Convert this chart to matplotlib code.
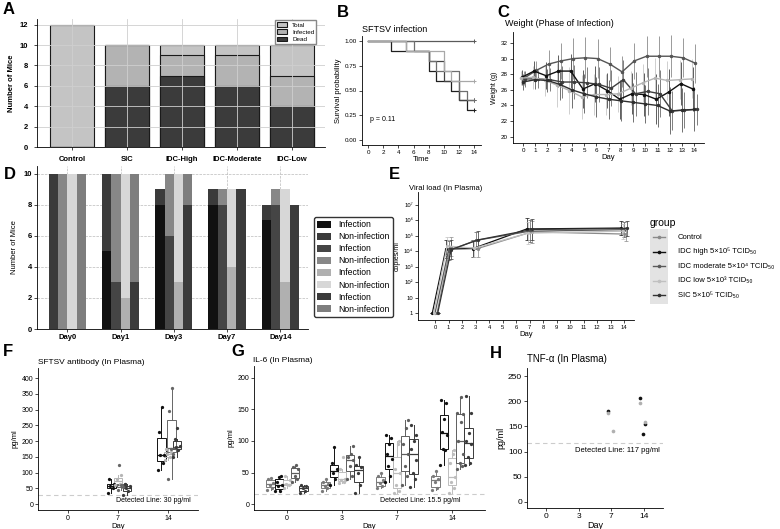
import numpy as np
import matplotlib
matplotlib.use("Agg")
import matplotlib.pyplot as plt
from matplotlib.patches import Patch, Rectangle
from matplotlib.lines import Line2D

plt.rcParams['font.family'] = ['Liberation Sans', 'DejaVu Sans']
plt.rcParams['axes.linewidth'] = 0.6
plt.rcParams['xtick.major.width'] = 0.5
plt.rcParams['ytick.major.width'] = 0.5
plt.rcParams['xtick.major.size'] = 2
plt.rcParams['ytick.major.size'] = 2
plt.rcParams['xtick.major.pad'] = 1.5
plt.rcParams['ytick.major.pad'] = 1.5

# ---------------- data ----------------
# A: mice counts
a_groups = ['Control', 'SIC', 'IDC-High', 'IDC-Moderate', 'IDC-Low']
a_total = [12, 10, 10, 10, 10]
a_infected = [0, 10, 9, 9, 7]
a_dead = [0, 6, 7, 6, 4]

# B: survival
b_groups = ['Control', 'IDC-High', 'SIC', 'IDC-Moderate', 'IDC-Low']
b_times = [[0], [0, 3, 8, 9, 11, 12, 13], [0, 5, 8, 10, 12], [0, 6, 8, 9, 12, 13], [0, 5, 10, 11]]
b_surv = [[1.0], [1, .9, .7, .6, .5, .4, .3], [1, .9, .8, .6, .4], [1, .9, .8, .7, .5, .4], [1, .9, .7, .6]]
b_end = 14
b_pvalue = 'p = 0.11'

# C: weight
c_days = list(range(15))
c_w_control = [27.5, 28.5, 29.3, 29.7, 30.0, 30.1, 30.0, 29.3, 28.3, 29.7, 30.3, 30.3, 30.3, 30.1, 29.4]
c_w_high = [27.6, 28.4, 27.8, 28.4, 28.4, 26.1, 26.8, 25.9, 24.8, 25.5, 25.4, 24.8, 25.7, 26.8, 26.1]
c_w_mod = [27.4, 27.4, 27.3, 27.0, 27.0, 26.9, 26.7, 26.2, 27.3, 25.5, 25.8, 25.5, 23.3, 23.4, 23.5]
c_w_low = [27.5, 27.6, 27.2, 26.6, 25.9, 25.1, 25.4, 25.4, 25.5, 26.2, 26.9, 27.5, 27.2, 27.3, 27.4]
c_w_sic = [27.0, 27.3, 27.2, 26.7, 26.0, 25.5, 25.1, 24.8, 24.6, 24.4, 24.2, 24.0, 23.3, 23.4, 23.5]
c_sd_control = [0.9, 1.2, 1.8, 2.3, 2.6, 2.6, 2.5, 2.2, 2.0, 2.3, 2.6, 2.6, 2.7, 2.5, 2.5]
c_sd_high = [1.0, 1.3, 1.7, 2.0, 2.2, 2.4, 2.3, 2.2, 2.5, 2.6, 2.8, 3.2, 3.0, 2.7, 2.8]
c_sd_mod = [1.0, 1.2, 1.5, 2.0, 2.2, 2.0, 2.2, 2.3, 2.5, 2.8, 3.0, 3.0, 2.5, 2.3, 2.0]
c_sd_low = [0.9, 1.5, 2.0, 2.8, 3.0, 2.8, 2.6, 2.6, 2.3, 2.2, 2.4, 2.6, 2.5, 2.5, 2.5]
c_sd_sic = [1.0, 1.2, 1.5, 2.0, 2.3, 2.5, 2.6, 2.5, 2.6, 2.5, 2.4, 2.8, 3.0, 2.8, 2.8]

# D: infection status
d_days = ['Day0', 'Day1', 'Day3', 'Day7', 'Day14']
d_inf_1 = [0, 5, 8, 8, 7]
d_non_1 = [10, 5, 1, 1, 1]
d_inf_2 = [0, 3, 6, 8, 8]
d_non_2 = [10, 7, 4, 1, 1]
d_inf_3 = [0, 2, 3, 4, 3]
d_non_3 = [10, 8, 7, 5, 6]
d_inf_4 = [0, 3, 8, 9, 8]
d_non_4 = [10, 7, 2, 0, 0]

# E: viral load
e_days = [0, 1, 3, 7, 14]
e_groups = ['Control', 'IDC high 5×10⁵ TCID₅₀', 'IDC moderate 5×10⁴ TCID₅₀',
            'IDC low 5×10³ TCID₅₀', 'SIC 5×10⁵ TCID₅₀']
e_control = [1, 2.0e4, 1.5e4, 1.8e5, 1.3e5]
e_high = [1, 1.4e4, 1.5e4, 2.8e5, 3.2e5]
e_mod = [1, 1.1e4, 5.0e4, 2.0e5, 2.5e5]
e_low = [1, 2.2e4, 1.6e4, 1.5e5, 2.0e5]
e_sic = [1, 1.3e4, 5.5e4, 2.6e5, 3.0e5]
e_errfactor = [1, 4, 3.5, 5, 3]

# F: antibody
f_days = ['0', '7', '14']
f_day7 = [[35, 50, 57, 62, 80], [60, 65, 80, 93], [45, 55, 60, 65, 125], [30, 42, 52, 58, 65]]
f_day14 = [[108, 130, 155, 155, 230, 307], [140, 150, 160, 165, 175],
           [80, 160, 175, 178, 297, 370], [150, 172, 180, 185, 205, 240]]
f_limit = 30

# G: IL-6
g_days = ['0', '3', '7', '14']
g_day0 = [[22, 25, 30, 33, 40, 42], [20, 20, 28, 30, 35, 43, 44], [25, 30, 32, 38, 45],
          [35, 40, 45, 55, 58, 62], [18, 20, 25, 28, 30]]
g_day3 = [[20, 25, 28, 32, 35, 40], [30, 40, 50, 55, 65, 90], [33, 35, 38, 40, 55, 75],
          [40, 45, 60, 70, 75, 80, 92], [18, 30, 50, 58, 62, 75]]
g_day7 = [[25, 28, 33, 38, 45, 50], [35, 45, 60, 72, 80, 95, 105, 110], [18, 20, 30, 50, 55, 95, 100],
          [30, 45, 60, 80, 95, 120, 134], [27, 40, 50, 70, 88, 100, 110, 125]]
g_day14 = [[22, 25, 35, 40, 45, 52], [62, 85, 88, 110, 115, 135, 160, 165], [18, 25, 35, 43, 65, 80, 85],
           [55, 60, 65, 80, 100, 130, 143, 145, 170], [62, 65, 75, 95, 100, 112, 145, 172]]
g_limit = 15.5

# H: TNF-a
h_days = ['0', '3', '7', '14']
h_day7_dark = [180]
h_day7_light = [177, 140]
h_day14_dark = [206, 155, 135]
h_day14_light = [197, 158]
h_limit = 117

# ---------------- layout helpers ----------------
W, H = 780, 529
fig = plt.figure(figsize=(7.8, 5.29), dpi=100)


def box(x0, y0, x1, y1):
    return [x0 / W, 1 - y1 / H, (x1 - x0) / W, (y1 - y0) / H]


def ftext(x, y, s, **kw):
    fig.text(x / W, 1 - y / H, s, **kw)


def classic(ax):
    ax.spines['top'].set_visible(False)
    ax.spines['right'].set_visible(False)


JIT = np.array([-0.9, 0.45, -0.2, 0.8, -0.55, 0.15, 0.65, -0.75, 0.3, -0.4])

# panel letters
for lab, x, y in [('A', 3, 2), ('B', 337, 5), ('C', 497, 5), ('D', 4, 167), ('E', 389, 167),
                  ('F', 3, 344), ('G', 231, 344), ('H', 490, 346)]:
    ftext(x, y, lab, fontsize=12, fontweight='bold', va='top', ha='left')

# ---------------- A ----------------
axA = fig.add_axes(box(37, 18.5, 325, 147))
xa = np.arange(len(a_groups))
axA.bar(xa, a_total, 0.8, color='#c4c4c4', edgecolor='#1a1a1a', linewidth=0.8, label='Total')
axA.bar(xa, a_infected, 0.8, color='#b3b3b3', edgecolor='#1a1a1a', linewidth=0.8, label='Infected')
axA.bar(xa, a_dead, 0.8, color='#3b3b3b', edgecolor='#1a1a1a', linewidth=0.8, label='Dead')
axA.set_xlim(-0.64, 4.6)
axA.set_ylim(0, 12.6)
axA.set_yticks(range(0, 13, 2))
axA.set_xticks(xa)
axA.set_xticklabels(a_groups, fontsize=5.5, fontweight='bold')
for t in axA.get_yticklabels():
    t.set_fontsize(5.5)
    t.set_fontweight('bold')
axA.grid(True, color='#cfcfcf', linewidth=0.6)
axA.set_ylabel('Number of Mice', fontsize=5.5, fontweight='bold', labelpad=3)
axA.tick_params(length=2.5, pad=4)
classic(axA)
axA.legend(loc='upper right', bbox_to_anchor=(0.97, 0.985), fontsize=4.5, handlelength=1.6,
           handleheight=0.8, labelspacing=0.25, borderpad=0.3, borderaxespad=0, framealpha=1,
           edgecolor='#888888', fancybox=False)

# ---------------- B ----------------
axB = fig.add_axes(box(362, 36, 481, 145))
b_cols = ['#5a5a5a', '#1f1f1f', '#444444', '#6e6e6e', '#a8a8a8']
for g, t, s, c in zip(b_groups, b_times, b_surv, b_cols):
    tt = list(t) + [b_end]
    ss = list(s) + [s[-1]]
    axB.step(tt, ss, where='post', color=c, linewidth=0.9)
    axB.plot([b_end], [s[-1]], marker='+', color=c, markersize=3.5, markeredgewidth=0.7)
axB.set_xlim(-0.8, 14.9)
axB.set_ylim(-0.05, 1.05)
axB.set_xticks(range(0, 15, 2))
axB.set_yticks([0, 0.25, 0.5, 0.75, 1.0])
axB.set_yticklabels(['0.00', '0.25', '0.50', '0.75', '1.00'])
axB.tick_params(labelsize=4.5)
axB.set_xlabel('Time', fontsize=5.5, labelpad=1)
axB.set_ylabel('Survival probability', fontsize=5.5, labelpad=2)
axB.text(0.3, 0.21, b_pvalue, fontsize=5, va='center')
classic(axB)
ftext(362, 29, 'SFTSV infection', fontsize=6.5, va='center')

# ---------------- C ----------------
axC = fig.add_axes(box(513, 32, 704, 143))
c_series = [c_w_control, c_w_high, c_w_mod, c_w_low, c_w_sic]
c_sds = [c_sd_control, c_sd_high, c_sd_mod, c_sd_low, c_sd_sic]
c_cols = ['#555555', '#111111', '#3e3e3e', '#b4b4b4', '#2e2e2e']
c_ecols = ['#8a8a8a', '#444444', '#6a6a6a', '#c8c8c8', '#5a5a5a']
c_off = [0.1, -0.1, 0.2, -0.2, 0.0]
for m, sd, c, ec, o in zip(c_series, c_sds, c_cols, c_ecols, c_off):
    x = np.array(c_days) + o
    axC.errorbar(x, m, yerr=sd, fmt='none', ecolor=ec, elinewidth=0.6, capsize=0)
for m, c, o in zip(c_series, c_cols, c_off):
    x = np.array(c_days) + o
    axC.plot(x, m, color=c, linewidth=1.0, marker='o', markersize=1.5)
axC.set_xlim(-0.82, 14.8)
axC.set_ylim(19.2, 33.4)
axC.set_xticks(c_days)
axC.set_yticks(range(20, 33, 2))
axC.tick_params(labelsize=4.5)
axC.set_xlabel('Day', fontsize=5.5, labelpad=1)
axC.set_ylabel('Weight (g)', fontsize=5, labelpad=2)
classic(axC)
ftext(505, 24, 'Weight (Phase of Infection)', fontsize=6.5, va='center')

# ---------------- D ----------------
axD = fig.add_axes(box(37, 166, 308, 329))
xd = np.arange(len(d_days))
d_offs = [-0.2625, -0.0875, 0.0875, 0.2625]
d_inf = [d_inf_1, d_inf_2, d_inf_3, d_inf_4]
d_non = [d_non_1, d_non_2, d_non_3, d_non_4]
d_cinf = ['#111111', '#454545', '#b0b0b0', '#3b3b3b']
d_cnon = ['#3b3b3b', '#878787', '#d7d7d7', '#7e7e7e']
for k in range(4):
    axD.bar(xd + d_offs[k], d_inf[k], 0.175, color=d_cinf[k], label='Infection')
    axD.bar(xd + d_offs[k], d_non[k], 0.175, bottom=d_inf[k], color=d_cnon[k], label='Non-infection')
axD.set_axisbelow(True)
axD.grid(True, color='#bbbbbb', linestyle='--', linewidth=0.5)
axD.set_xlim(-0.57, 4.52)
axD.set_ylim(0, 10.5)
axD.set_yticks(range(0, 11, 2))
axD.set_xticks(xd)
axD.set_xticklabels(d_days, fontsize=5.5, fontweight='bold')
for t in axD.get_yticklabels():
    t.set_fontsize(5.5)
    t.set_fontweight('bold')
axD.set_ylabel('Number of Mice', fontsize=5.5, labelpad=4)
classic(axD)
hD, lD = axD.get_legend_handles_labels()
fig.legend(hD, lD, loc='upper left', bbox_to_anchor=(314 / W, 1 - 217 / H), fontsize=6.2,
           handlelength=1.6, handleheight=0.8, labelspacing=0.35, borderpad=0.4,
           edgecolor='#333333', framealpha=1, borderaxespad=0)

# ---------------- E ----------------
axE = fig.add_axes(box(418, 192, 634, 320))
e_series = [e_control, e_high, e_mod, e_low, e_sic]
e_cols = ['#8a8a8a', '#111111', '#5a5a5a', '#c0c0c0', '#333333']
e_off = [0.15, -0.2, 0.0, -0.1, 0.2]
ef = np.array(e_errfactor, dtype=float)
for v, c, o in zip(e_series, e_cols, e_off):
    v = np.array(v, dtype=float)
    x = np.array(e_days) + o
    axE.errorbar(x, v, yerr=[v - v / ef, v * ef - v], color=c, linewidth=0.9, elinewidth=0.5,
                 capsize=1.5, capthick=0.5, marker='o', markersize=1.3)
axE.set_yscale('log')
axE.set_ylim(10 ** -0.45, 10 ** 7.84)
axE.set_xlim(-1.26, 14.74)
axE.set_xticks(range(0, 15))
axE.set_yticks([10 ** k for k in range(8)])
axE.set_yticklabels(['1', '10', '10²', '10³', '10⁴', '10⁵', '10⁶', '10⁷'])
axE.minorticks_off()
axE.tick_params(labelsize=4.2)
axE.set_xlabel('Day', fontsize=5.5, labelpad=1)
axE.set_ylabel('copies/ml', fontsize=5, labelpad=2)
classic(axE)
ftext(409, 188, 'Viral load (In Plasma)', fontsize=5.5, va='center')
# legend
ftext(650, 223, 'group', fontsize=7.5, va='center')
fig.patches.append(Rectangle((650 / W, 1 - 304 / H), 18 / W, 75 / H, transform=fig.transFigure,
                             facecolor='#e3e3e3', edgecolor='none'))
for i, (g, c) in enumerate(zip(e_groups, e_cols)):
    yy = 1 - (237 + 14.6 * i) / H
    fig.lines.append(Line2D([653 / W, 665 / W], [yy, yy], transform=fig.transFigure, color=c,
                            linewidth=1.0))
    fig.lines.append(Line2D([659 / W], [yy], transform=fig.transFigure, color=c, marker='o',
                            markersize=1.6))
    ftext(678, 237 + 14.6 * i, g, fontsize=5.5, va='center')


# ---------------- boxplot helper ----------------
def draw_boxes(ax, per_day, day_pos, offsets, colors, width):
    for dp, day_data in zip(day_pos, per_day):
        for vals, o, c in zip(day_data, offsets, colors):
            if len(vals) == 0:
                continue
            pos = dp + o
            ax.boxplot([vals], positions=[pos], widths=width, showfliers=False, patch_artist=True,
                       boxprops=dict(facecolor='none', edgecolor=c, linewidth=0.7),
                       medianprops=dict(color=c, linewidth=0.9),
                       whiskerprops=dict(color=c, linewidth=0.7),
                       capprops=dict(linewidth=0), manage_ticks=False)
            jit = JIT[:len(vals)] * width * 0.45
            ax.scatter(pos + jit, vals, s=5.5, color=c, zorder=3, linewidths=0)


def gg_axes(ax, labels, ylim, yticks, fs=5):
    ax.set_xlim(0.4, len(labels) + 0.6)
    ax.set_ylim(*ylim)
    ax.set_xticks(np.arange(1, len(labels) + 1))
    ax.set_xticklabels(labels)
    ax.set_yticks(yticks)
    ax.tick_params(labelsize=fs)
    classic(ax)


# ---------------- F ----------------
axF = fig.add_axes(box(38, 368, 198, 510))
f_cols = ['#111111', '#b5b5b5', '#666666', '#3a3a3a']
draw_boxes(axF, [f_day7, f_day14], [2, 3], [-0.135, 0.0, 0.07, 0.175], f_cols, 0.17)
axF.axhline(f_limit, color='#cccccc', linestyle=(0, (4, 3)), linewidth=0.8, zorder=0)
axF.text(3.45, f_limit - 8, 'Detected Line: 30 pg/ml', fontsize=5, ha='right', va='top')
gg_axes(axF, f_days, (-19, 432), range(0, 401, 50))
axF.set_xlabel('Day', fontsize=5.5, labelpad=1)
axF.set_ylabel('pg/ml', fontsize=5.5, labelpad=2)
ftext(38, 362, 'SFTSV antibody (In Plasma)', fontsize=6, va='center')

# ---------------- G ----------------
axG = fig.add_axes(box(254, 366, 485, 510))
g_cols = ['#7a7a7a', '#111111', '#bdbdbd', '#5e5e5e', '#3a3a3a']
draw_boxes(axG, [g_day0, g_day3, g_day7, g_day14], [1, 2, 3, 4], [-0.3, -0.15, 0.0, 0.15, 0.3],
           g_cols, 0.15)
axG.axhline(g_limit, color='#cccccc', linestyle=(0, (4, 3)), linewidth=0.8, zorder=0)
axG.text(4.15, g_limit - 4, 'Detected Line: 15.5 pg/ml', fontsize=5, ha='right', va='top')
gg_axes(axG, g_days, (-9.5, 219), range(0, 201, 50))
axG.set_xlabel('Day', fontsize=5.5, labelpad=1)
axG.set_ylabel('pg/ml', fontsize=5.5, labelpad=2)
ftext(253, 360, 'IL-6 (In Plasma)', fontsize=6, va='center')

# ---------------- H ----------------
axH = fig.add_axes(box(527, 368, 663, 508))
h_sets = [(3, h_day7_dark, '#111111'), (3, h_day7_light, '#b0b0b0'),
          (4, h_day14_dark, '#111111'), (4, h_day14_light, '#b0b0b0')]
for dp, vals, c in h_sets:
    axH.scatter(dp + JIT[:len(vals)] * 0.12, vals, s=7, color=c, zorder=3, linewidths=0)
axH.axhline(h_limit, color='#cccccc', linestyle=(0, (4, 3)), linewidth=0.8, zorder=0)
axH.text(4.5, 103, 'Detected Line: 117 pg/ml', fontsize=5.5, ha='right', va='center')
gg_axes(axH, h_days, (-12, 266), range(0, 251, 50), fs=6)
axH.set_xlabel('Day', fontsize=6.5, labelpad=1)
axH.set_ylabel('pg/ml', fontsize=6.5, labelpad=2)
ftext(527, 359, 'TNF-α (In Plasma)', fontsize=7, va='center')

fig.savefig('out.png', dpi=100)
